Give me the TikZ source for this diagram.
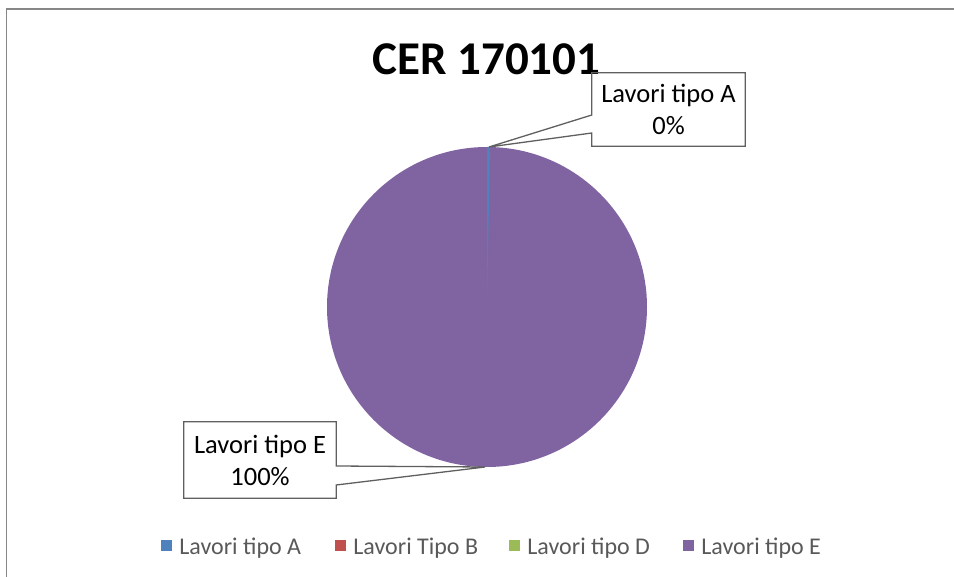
\documentclass[tikz,border=0pt]{standalone}
\usepackage{fontspec}
\setmainfont{Carlito}
\usetikzlibrary{positioning}

\definecolor{serA}{HTML}{4F81BD}
\definecolor{serB}{HTML}{C0504D}
\definecolor{serD}{HTML}{9BBB59}
\definecolor{serE}{HTML}{8064A2}
\definecolor{frameGray}{HTML}{878787}
\definecolor{legGray}{HTML}{595959}
\definecolor{lineGray}{HTML}{5F5F5F}

\tikzset{
  chartframe/.style={draw=frameGray, line width=1.6pt},
  charttitle/.style={inner sep=0pt, font=\fontsize{47}{56}\selectfont\bfseries},
  datalbl/.style={inner sep=0pt, align=center, font=\fontsize{26.5}{32}\selectfont},
  lblbox/.style={draw=lineGray, line width=1.3pt, line join=miter},
  legsq/.style={inner sep=0pt, minimum size=11pt},
  legtxt/.style={inner sep=0pt, text=legGray, font=\fontsize{24}{28}\selectfont}
}

\begin{document}
\begin{tikzpicture}[x=1pt,y=-1pt]
	\useasboundingbox (0,0) rectangle (954,577);
	\clip (0,0) rectangle (954,577);
	% chart area
	\draw[chartframe] (6.5,9) rectangle (980,600);
	\node[charttitle, anchor=base] (ttl) at (486.5,75) {CER 170101};
	% pie
	\coordinate (pc) at (487,307);
	\fill[serE] (pc) circle[radius=160];
	\fill[serA] (pc) -- (487,147) -- (490,147) -- cycle;
	% data labels
	\coordinate (tipA) at (489,147);
	\coordinate (tipE) at (485,467);
	\node[datalbl, minimum width=153, minimum height=73] (lblA) at (668.5,109.5) {Lavori tipo A\\0\%};
	\coordinate (pA1) at (lblA.west |- 0,115);
	\coordinate (pA2) at (lblA.west |- 0,133);
	\draw[lblbox] (lblA.north west) -- (lblA.north east) -- (lblA.south east) -- (lblA.south west)
		-- (pA2) -- (tipA) -- (pA1) -- cycle;
	\node[datalbl, minimum width=152, minimum height=76] (lblE) at (260,460) {Lavori tipo E\\100\%};
	\coordinate (pE1) at (lblE.east |- 0,466);
	\coordinate (pE2) at (lblE.east |- 0,485);
	\draw[lblbox] (lblE.north west) -- (lblE.north east) -- (pE1) -- (tipE) -- (pE2)
		-- (lblE.south east) -- (lblE.south west) -- cycle;
	% legend
	\foreach \c/\t [count=\i] in {serA/Lavori tipo A, serB/Lavori Tipo B, serD/Lavori tipo D, serE/Lavori tipo E}{
		\node[legsq, fill=\c] (sq\i) at ({166.5+174*(\i-1)}, 545.5) {};
		\node[legtxt, anchor=base west] (lt\i) at ([xshift=7pt]sq\i.east |- 0,554) {\t};
	}
\end{tikzpicture}
\end{document}
